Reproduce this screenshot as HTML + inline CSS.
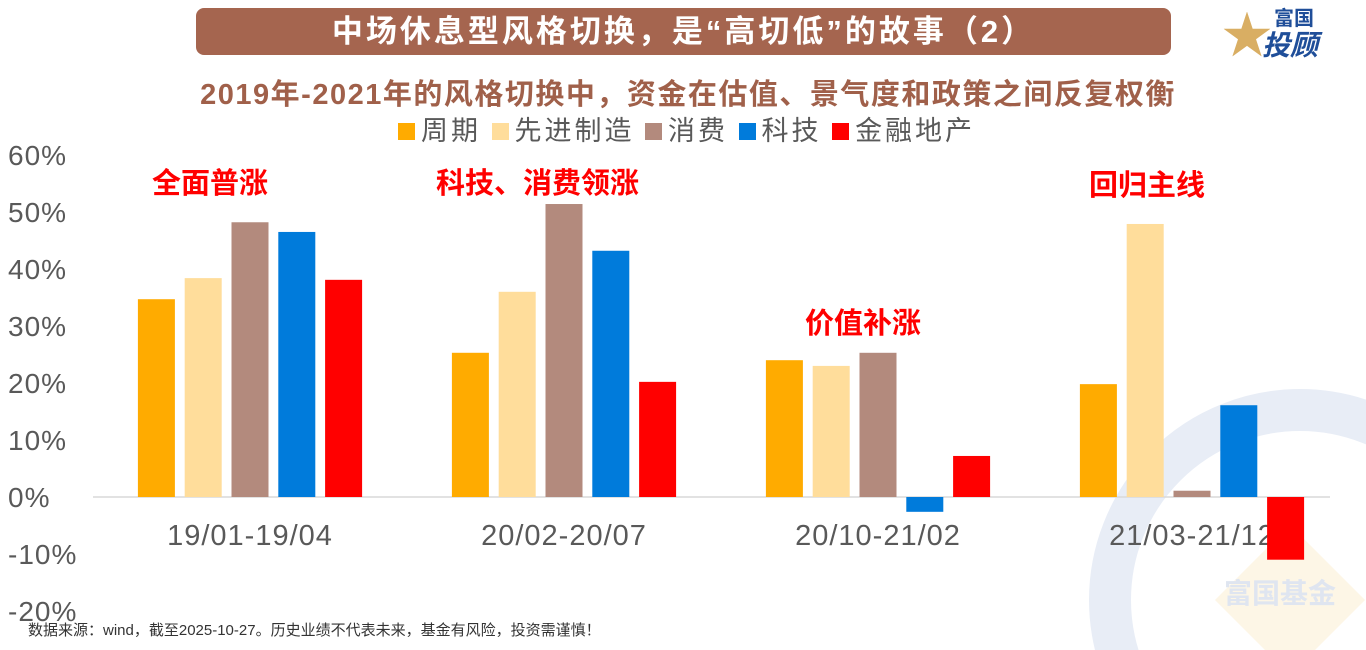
<!DOCTYPE html>
<html style="overflow:hidden"><head><meta charset="utf-8"><style>
html,body{margin:0;width:1366px;height:650px;overflow:hidden}
body{background:#fff;font-family:"Liberation Sans","Noto Sans CJK SC",sans-serif;position:relative}
.abs{position:absolute}
</style></head><body>
<svg class="abs" style="left:0;top:0;display:block" width="1366" height="650">
 <g>
  <circle cx="1300" cy="600" r="190" fill="none" stroke="#e8edf6" stroke-width="42"/>
  <path d="M1215 600 L1290 525 L1365 600 L1290 675 Z" fill="#fdf6e6"/>
  <text x="1280" y="603" font-size="28" font-weight="bold" fill="#dfe5f0" text-anchor="middle">富国基金</text>
 </g>
 <g id="axes"></g><g id="bars"></g>
</svg>
<div class="abs" style="left:196px;top:8px;width:975px;height:47px;background:#a5654f;border-radius:8px;color:#fff;font-weight:bold;font-size:31px;letter-spacing:3px;line-height:47px;text-align:center">中场休息型风格切换，是“高切低”的故事（2）</div>
<div class="abs" style="left:1222px;top:6px;width:140px;height:60px;overflow:hidden">
 <span class="abs" style="left:0;top:0;font-size:50px;line-height:60px;color:#d9ae63;font-weight:bold">★</span>
 <span class="abs" style="left:52px;top:2px;font-size:20px;line-height:22px;color:#1f4e99;font-weight:bold">富国</span>
 <span class="abs" style="left:40px;top:24px;font-size:28px;line-height:32px;color:#1f4e99;font-weight:bold;font-style:italic">投顾</span>
</div>
<div class="abs" style="left:0;width:1376px;top:71px;text-align:center;font-size:29px;letter-spacing:1.5px;font-weight:bold;color:#a0604a;white-space:nowrap">2019年-2021年的风格切换中，资金在估值、景气度和政策之间反复权衡</div>
<div class="abs" style="left:398px;top:113px;font-size:27px;letter-spacing:3px;color:#595959;white-space:nowrap;line-height:36px">
 <span><i style="display:inline-block;width:17px;height:17px;background:#ffab00;margin-right:6px"></i>周期 </span>
 <span><i style="display:inline-block;width:17px;height:17px;background:#ffdd9b;margin-right:6px"></i>先进制造 </span>
 <span><i style="display:inline-block;width:17px;height:17px;background:#b38a7d;margin-right:6px"></i>消费 </span>
 <span><i style="display:inline-block;width:17px;height:17px;background:#007bdb;margin-right:6px"></i>科技 </span>
 <span><i style="display:inline-block;width:17px;height:17px;background:#ff0000;margin-right:6px"></i>金融地产</span>
</div>
<div class="abs" style="left:152px;top:160px;font-size:29px;font-weight:bold;color:#ff0000">全面普涨</div>
<div class="abs" style="left:436px;top:160px;font-size:29px;font-weight:bold;color:#ff0000">科技、消费领涨</div>
<div class="abs" style="left:805px;top:300px;font-size:29px;font-weight:bold;color:#ff0000">价值补涨</div>
<div class="abs" style="left:1089px;top:162px;font-size:29px;font-weight:bold;color:#ff0000">回归主线</div>
<div class="abs" style="left:28px;top:622px;font-size:15px;line-height:18px;color:#333;white-space:nowrap">数据来源：wind，截至2025-10-27。历史业绩不代表未来，基金有风险，投资需谨慎！</div>
<script>
const categories=["19/01-19/04","20/02-20/07","20/10-21/02","21/03-21/12"];
const seriesNames=["周期","先进制造","消费","科技","金融地产"];
const zhouqi=[34.7,25.3,24.0,19.8];
const zhizao=[38.4,36.0,23.0,47.9];
const xiaofei=[48.2,51.4,25.3,1.1];
const keji=[46.5,43.2,-2.6,16.1];
const jinrong=[38.1,20.2,7.2,-11.0];
const yTicks=[60,50,40,30,20,10,0,-10,-20];
const colors=["#ffab00","#ffdd9b","#b38a7d","#007bdb","#ff0000"];
const series=[zhouqi,zhizao,xiaofei,keji,jinrong];
const NS="http://www.w3.org/2000/svg";
const y=v=>497-v*5.7;
const groupW=314, x0=93;
const xc=i=>x0+groupW*i+groupW/2;
const ax=document.getElementById('axes'), bg=document.getElementById('bars');
function mk(t,a,p){const e=document.createElementNS(NS,t);for(const k in a)e.setAttribute(k,a[k]);p.appendChild(e);return e;}
yTicks.forEach(v=>{const t=mk('text',{x:8,y:y(v)+10,'font-size':28,fill:'#595959','letter-spacing':1},ax);t.textContent=v+'%';

});
const base=mk('line',{x1:93,x2:1330,y1:y(0),y2:y(0),stroke:'#d9d9d9','stroke-width':1.5},ax);


categories.forEach((c,i)=>{const t=mk('text',{x:xc(i),y:545,'font-size':29,fill:'#595959','text-anchor':'middle','letter-spacing':1},ax);t.textContent=c;

});
series.forEach((s,j)=>s.forEach((v,i)=>{const cx=xc(i)+(j-2)*46.8;const top=Math.min(y(v),y(0)),h=Math.abs(y(v)-y(0));
const r=mk('rect',{x:cx-18.5,y:top,width:37,height:h,fill:colors[j]},bg);

}));
</script>
</body></html>
